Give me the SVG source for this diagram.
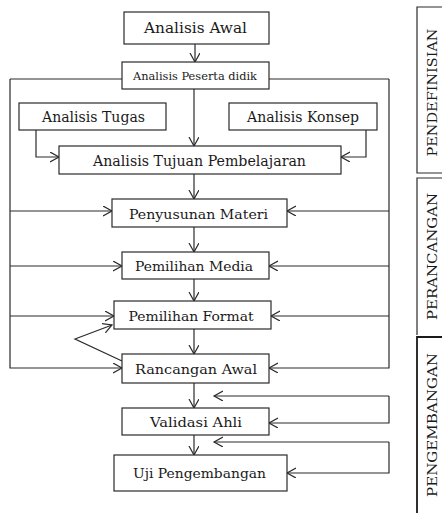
<svg xmlns="http://www.w3.org/2000/svg" width="442" height="513" viewBox="0 0 442 513">
<defs>
<marker id="ah" markerUnits="userSpaceOnUse" markerWidth="12" markerHeight="12" refX="9" refY="5" orient="auto">
<path d="M0,0 L9,5 L0,10" fill="none" stroke="#2a2a2a" stroke-width="1.2"/>
</marker>
<style>
rect.n{fill:#fff;stroke:#2a2a2a;stroke-width:1.2}
text{font-family:'DejaVu Serif','Liberation Serif',serif;fill:#1a1a1a;text-anchor:middle}
.c path{fill:none;stroke:#2a2a2a;stroke-width:1.2}
.a{marker-end:url(#ah)}
.side{font-size:13px}
</style>
</defs>
<rect width="442" height="513" fill="#fff"/>
<g class="c" id="connectors">
<path class="a" d="M195,44 V62"/>
<path d="M10,79 H122 M269,79 H389"/>
<path class="a" d="M10,79 V368 H122"/>
<path class="a" d="M389,79 V368 H269"/>
<path class="a" d="M194,89 V146"/>
<path class="a" d="M36,130 V157 H59"/>
<path class="a" d="M366,130 V157 H341"/>
<path class="a" d="M194,174 V199"/>
<path class="a" d="M194,227 V252"/>
<path class="a" d="M194,279 V301"/>
<path class="a" d="M194,329 V354"/>
<path class="a" d="M10,211 H112"/>
<path class="a" d="M10,266 H122"/>
<path class="a" d="M10,316 H114"/>
<path class="a" d="M389,211 H287"/>
<path class="a" d="M389,266 H269"/>
<path class="a" d="M389,316 H271"/>
<path class="a" d="M122,361 L75,339 L112,325"/>
<path class="a" d="M194,383 V408"/>
<path class="a" d="M194,435 V455"/>
<path class="a" d="M389,396 V423 H269"/>
<path class="a" d="M389,396 H214"/>
<path class="a" d="M389,442 V473 H287"/>
<path class="a" d="M389,442 H214"/>
</g>
<g id="awal"><rect class="n" x="124" y="12" width="145" height="32"/><text x="195.5" y="33" font-size="14" textLength="103" lengthAdjust="spacingAndGlyphs">Analisis Awal</text></g>
<g id="peserta"><rect class="n" x="122" y="62" width="147" height="27"/><text x="195" y="80" font-size="11.5" textLength="124" lengthAdjust="spacingAndGlyphs">Analisis Peserta didik</text></g>
<g id="tugas"><rect class="n" x="19" y="103" width="147" height="27"/><text x="93.5" y="122" font-size="14" textLength="103" lengthAdjust="spacingAndGlyphs">Analisis Tugas</text></g>
<g id="konsep"><rect class="n" x="229" y="103" width="148" height="27"/><text x="303" y="122" font-size="14" textLength="112" lengthAdjust="spacingAndGlyphs">Analisis Konsep</text></g>
<g id="tujuan"><rect class="n" x="59" y="146" width="282" height="28"/><text x="199.5" y="166" font-size="14" textLength="213" lengthAdjust="spacingAndGlyphs">Analisis Tujuan Pembelajaran</text></g>
<g id="materi"><rect class="n" x="112" y="199" width="175" height="28"/><text x="198.5" y="218.5" font-size="13" textLength="139" lengthAdjust="spacingAndGlyphs">Penyusunan Materi</text></g>
<g id="media"><rect class="n" x="122" y="252" width="147" height="27"/><text x="194" y="271" font-size="13" textLength="118" lengthAdjust="spacingAndGlyphs">Pemilihan Media</text></g>
<g id="format"><rect class="n" x="114" y="301" width="157" height="28"/><text x="191" y="320.5" font-size="13" textLength="125" lengthAdjust="spacingAndGlyphs">Pemilihan Format</text></g>
<g id="rancangan"><rect class="n" x="122" y="354" width="147" height="29"/><text x="196" y="373.5" font-size="13" textLength="122" lengthAdjust="spacingAndGlyphs">Rancangan Awal</text></g>
<g id="validasi"><rect class="n" x="122" y="408" width="147" height="27"/><text x="196" y="427" font-size="13" textLength="92" lengthAdjust="spacingAndGlyphs">Validasi Ahli</text></g>
<g id="uji"><rect class="n" x="114" y="455" width="173" height="36"/><text x="199.5" y="478" font-size="13" textLength="133" lengthAdjust="spacingAndGlyphs">Uji Pengembangan</text></g>
<g id="pendefinisian"><path d="M444,7 H417 V173 H444" fill="none" stroke="#2a2a2a" stroke-width="1.2"/><text class="side" transform="translate(437,92.5) rotate(-90)" textLength="128" lengthAdjust="spacingAndGlyphs">PENDEFINISIAN</text></g>
<g id="perancangan"><path d="M444,178 H417 V335" fill="none" stroke="#2a2a2a" stroke-width="1.2"/><text class="side" transform="translate(437,256.5) rotate(-90)" textLength="127" lengthAdjust="spacingAndGlyphs">PERANCANGAN</text></g>
<g id="pengembangan"><path d="M444,337 H417 V515" fill="none" stroke="#1a1a1a" stroke-width="1.8"/><text class="side" transform="translate(437,425) rotate(-90)" textLength="144" lengthAdjust="spacingAndGlyphs">PENGEMBANGAN</text></g>
</svg>
